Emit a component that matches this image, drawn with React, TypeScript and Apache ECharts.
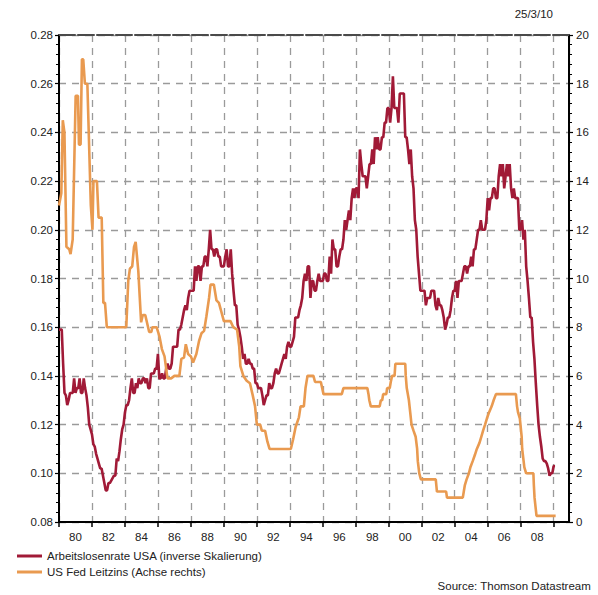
import React, { useEffect, useRef } from "react";
import * as echarts from "echarts";

// Monthly values from Jan 1980: inverse of the US unemployment rate (left axis)
const START_YEAR = 1980;
const unemploymentInverse: number[] = [
  // 1980
  0.159, 0.159, 0.159, 0.145, 0.133, 0.132, 0.128, 0.130, 0.133, 0.133, 0.133, 0.139,
  // 1981
  0.133, 0.135, 0.135, 0.139, 0.133, 0.133, 0.139, 0.135, 0.132, 0.127, 0.120, 0.118,
  // 1982
  0.116, 0.112, 0.111, 0.108, 0.106, 0.104, 0.102, 0.102, 0.099, 0.096, 0.093, 0.093,
  // 1983
  0.096, 0.096, 0.097, 0.098, 0.099, 0.099, 0.106, 0.105, 0.109, 0.114, 0.118, 0.120,
  // 1984
  0.125, 0.128, 0.128, 0.130, 0.135, 0.139, 0.133, 0.133, 0.137, 0.135, 0.139, 0.137,
  // 1985
  0.137, 0.139, 0.139, 0.137, 0.139, 0.135, 0.135, 0.141, 0.141, 0.141, 0.143, 0.143,
  // 1986
  0.149, 0.139, 0.139, 0.141, 0.139, 0.139, 0.143, 0.145, 0.143, 0.143, 0.145, 0.152,
  // 1987
  0.152, 0.152, 0.152, 0.159, 0.159, 0.161, 0.164, 0.167, 0.169, 0.167, 0.172, 0.175,
  // 1988
  0.175, 0.175, 0.175, 0.185, 0.179, 0.185, 0.185, 0.179, 0.185, 0.185, 0.189, 0.189,
  // 1989
  0.185, 0.192, 0.200, 0.192, 0.192, 0.189, 0.192, 0.192, 0.189, 0.189, 0.185, 0.185,
  // 1990
  0.185, 0.189, 0.192, 0.185, 0.185, 0.192, 0.182, 0.175, 0.169, 0.169, 0.161, 0.159,
  // 1991
  0.156, 0.152, 0.147, 0.149, 0.145, 0.145, 0.147, 0.145, 0.145, 0.143, 0.143, 0.137,
  // 1992
  0.137, 0.135, 0.135, 0.135, 0.132, 0.128, 0.130, 0.132, 0.132, 0.137, 0.135, 0.135,
  // 1993
  0.137, 0.141, 0.143, 0.141, 0.141, 0.143, 0.145, 0.147, 0.149, 0.147, 0.152, 0.154,
  // 1994
  0.152, 0.152, 0.154, 0.156, 0.164, 0.164, 0.164, 0.167, 0.169, 0.172, 0.179, 0.182,
  // 1995
  0.179, 0.185, 0.185, 0.172, 0.179, 0.179, 0.175, 0.175, 0.179, 0.182, 0.179, 0.179,
  // 1996
  0.179, 0.182, 0.182, 0.179, 0.179, 0.189, 0.182, 0.196, 0.192, 0.192, 0.185, 0.185,
  // 1997
  0.189, 0.192, 0.192, 0.196, 0.204, 0.200, 0.204, 0.208, 0.204, 0.213, 0.217, 0.213,
  // 1998
  0.217, 0.217, 0.213, 0.233, 0.227, 0.222, 0.222, 0.222, 0.217, 0.222, 0.227, 0.227,
  // 1999
  0.233, 0.227, 0.238, 0.233, 0.238, 0.233, 0.233, 0.238, 0.238, 0.244, 0.244, 0.250,
  // 2000
  0.250, 0.244, 0.250, 0.263, 0.250, 0.250, 0.250, 0.244, 0.256, 0.256, 0.256, 0.256,
  // 2001
  0.238, 0.238, 0.233, 0.227, 0.233, 0.222, 0.217, 0.204, 0.200, 0.189, 0.182, 0.175,
  // 2002
  0.175, 0.175, 0.175, 0.169, 0.172, 0.172, 0.172, 0.175, 0.175, 0.175, 0.169, 0.167,
  // 2003
  0.172, 0.169, 0.169, 0.167, 0.164, 0.159, 0.161, 0.164, 0.164, 0.167, 0.172, 0.175,
  // 2004
  0.175, 0.179, 0.172, 0.179, 0.179, 0.179, 0.182, 0.185, 0.185, 0.182, 0.185, 0.185,
  // 2005
  0.189, 0.185, 0.192, 0.192, 0.196, 0.200, 0.200, 0.204, 0.200, 0.200, 0.200, 0.204,
  // 2006
  0.213, 0.208, 0.213, 0.213, 0.217, 0.217, 0.213, 0.213, 0.222, 0.227, 0.222, 0.227,
  // 2007
  0.217, 0.222, 0.227, 0.222, 0.227, 0.217, 0.213, 0.217, 0.213, 0.213, 0.213, 0.200,
  // 2008
  0.200, 0.204, 0.196, 0.200, 0.185, 0.179, 0.172, 0.164, 0.164, 0.154, 0.147, 0.137,
  // 2009
  0.128, 0.120, 0.115, 0.111, 0.106, 0.105, 0.105, 0.104, 0.102, 0.099, 0.100, 0.100,
  // 2010
  0.103, 0.103,
];

// US Fed policy rate (right axis): breakpoints
const fedYears: number[] = [
  1980.0, 1980.14, 1980.23, 1980.33, 1980.45, 1980.62, 1980.7, 1980.83, 1981.01, 1981.15,
  1981.21, 1981.31, 1981.39, 1981.47, 1981.57, 1981.72, 1981.93, 1982.03, 1982.09, 1982.3,
  1982.4, 1982.59, 1982.69, 1982.79, 1982.9, 1984.08, 1984.2, 1984.3, 1984.44, 1984.55,
  1984.65, 1984.81, 1984.98, 1985.08, 1985.23, 1985.47, 1985.6, 1985.66, 1985.92, 1986.1,
  1986.24, 1986.4, 1986.58, 1986.8, 1987.0, 1987.3, 1987.42, 1987.58, 1987.69, 1987.83,
  1988.0, 1988.13, 1988.33, 1988.5, 1988.64, 1988.8, 1988.94, 1989.1, 1989.19, 1989.39,
  1989.55, 1989.7, 1989.86, 1990.0, 1990.4, 1990.57, 1990.8, 1990.93, 1991.0, 1991.18,
  1991.38, 1991.58, 1991.75, 1991.89, 1992.0, 1992.2, 1992.3, 1992.5, 1992.64, 1992.77,
  1994.06, 1994.2, 1994.35, 1994.55, 1994.65, 1994.85, 1994.95, 1995.07, 1995.43, 1995.53,
  1995.88, 1995.96, 1996.04, 1997.15, 1997.25, 1998.7, 1998.77, 1998.82, 1998.91, 1999.45,
  1999.52, 1999.6, 1999.66, 1999.85, 1999.9, 2000.06, 2000.12, 2000.2, 2000.35, 2000.4,
  2001.0, 2001.03, 2001.09, 2001.22, 2001.3, 2001.38, 2001.5, 2001.63, 2001.72, 2001.76,
  2001.85, 2001.95, 2002.85, 2002.92, 2003.48, 2003.53, 2004.49, 2004.55, 2004.61, 2004.72,
  2004.86, 2004.95, 2005.09, 2005.22, 2005.34, 2005.5, 2005.61, 2005.72, 2005.84, 2005.95,
  2006.08, 2006.24, 2006.36, 2006.5, 2007.71, 2007.78, 2007.84, 2007.95, 2008.06, 2008.09,
  2008.22, 2008.33, 2008.77, 2008.8, 2008.84, 2008.96, 2010.12,
];
const fedRates: number[] = [
  13.0, 13.5, 16.5, 16.0, 11.3, 11.2, 11.0, 11.6, 17.5, 17.5,
  15.5, 15.5, 19.0, 19.0, 18.0, 18.0, 13.0, 12.0, 14.0, 14.0,
  12.5, 12.5, 9.0, 9.0, 8.0, 8.0, 9.9, 10.4, 10.5, 11.3,
  11.5, 10.3, 8.2, 8.5, 8.5, 7.8, 7.8, 8.0, 8.0, 7.6,
  7.1, 6.8, 5.9, 5.9, 6.0, 6.0, 6.7, 6.75, 7.3, 6.9,
  6.8, 6.55, 6.9, 7.45, 7.75, 7.85, 8.45, 9.2, 9.75, 9.75,
  9.1, 9.0, 8.6, 8.25, 8.25, 8.0, 7.9, 7.2, 6.4, 6.0,
  5.8, 5.7, 5.2, 4.75, 4.0, 4.0, 3.75, 3.75, 3.3, 3.0,
  3.0, 3.4, 3.9, 4.3, 4.75, 4.75, 5.5, 6.0, 6.0, 5.75,
  5.75, 5.5, 5.25, 5.25, 5.5, 5.5, 5.25, 5.0, 4.75, 4.75,
  5.0, 5.0, 5.25, 5.25, 5.5, 5.5, 5.75, 6.0, 6.0, 6.5,
  6.5, 6.0, 5.5, 5.0, 4.5, 4.0, 3.75, 3.5, 3.0, 2.5,
  2.0, 1.75, 1.75, 1.25, 1.25, 1.0, 1.0, 1.25, 1.5, 1.75,
  2.0, 2.25, 2.5, 2.75, 3.0, 3.25, 3.5, 3.75, 4.0, 4.25,
  4.5, 4.75, 5.0, 5.25, 5.25, 4.75, 4.5, 4.25, 3.5, 3.0,
  2.25, 2.0, 2.0, 1.5, 1.0, 0.25, 0.25,
];

const X_MIN = 1980;
const X_MAX = 2010.93;
const X_STEP = 2;
const LEFT_MIN = 0.08;
const LEFT_MAX = 0.28;
const LEFT_STEP = 0.02;
const RIGHT_MIN = 0;
const RIGHT_MAX = 20;
const RIGHT_STEP = 2;
const LAST_X_LABEL_YEAR = 2008;

const SERIES_RED = "Arbeitslosenrate USA (inverse Skalierung)";
const SERIES_ORANGE = "US Fed Leitzins (Achse rechts)";
const DATE_TEXT = "25/3/10";
const SOURCE_TEXT = "Source: Thomson Datastream";

const FONT = "'Liberation Sans', Arial, Helvetica, sans-serif";
const RED = "#A11A37";
const ORANGE = "#E99A50";
const FS = 11.5;

export default function App() {
  const ref = useRef<HTMLDivElement>(null);

  useEffect(() => {
    if (!ref.current) return;
    const chart = echarts.init(ref.current, null, { renderer: "svg" });

    const redData = unemploymentInverse.map((v, i) => [START_YEAR + i / 12, v]);
    const orangeData = fedYears.map((y, i) => [y, fedRates[i]]);

    const gridDash = { color: "#9a9a9a", width: 1.3, type: [7, 6] as number[] };

    chart.setOption({
      animation: false,
      textStyle: { fontFamily: FONT },
      title: [
        {
          text: DATE_TEXT,
          right: 40,
          top: 3,
          textStyle: { fontSize: FS, fontWeight: "normal", color: "#222", fontFamily: FONT },
        },
        {
          text: SOURCE_TEXT,
          right: 2,
          top: 575,
          textStyle: { fontSize: FS, fontWeight: "normal", color: "#222", fontFamily: FONT },
        },
      ],
      legend: {
        orient: "vertical",
        left: 12,
        top: 545,
        itemWidth: 25,
        itemHeight: 3,
        itemGap: 4,
        icon: "rect",
        data: [SERIES_RED, SERIES_ORANGE],
        textStyle: { fontSize: FS, color: "#222", fontFamily: FONT },
      },
      grid: { left: 59, right: 29, top: 35, bottom: 73, containLabel: false },
      xAxis: [
        {
          type: "value",
          min: X_MIN,
          max: X_MAX,
          interval: X_STEP,
          axisLine: { show: true, lineStyle: { color: "#000", width: 2 } },
          axisTick: { show: true, length: 5, lineStyle: { color: "#000", width: 1.5 } },
          axisLabel: {
            show: true,
            margin: 9,
            fontSize: FS,
            color: "#222",
            fontFamily: FONT,
            padding: [0, 0, 0, 33],
            showMaxLabel: false,
            formatter: (v: number) => {
              const r = Math.round(v);
              if (Math.abs(v - r) > 1e-6 || r > LAST_X_LABEL_YEAR) return "";
              return String(r % 100).padStart(2, "0");
            },
          },
          splitLine: { show: true, lineStyle: gridDash },
        },
        {
          type: "value",
          position: "top",
          min: X_MIN,
          max: X_MAX,
          interval: X_STEP,
          axisLine: { show: true, lineStyle: { color: "#4a4a4a", width: 2, type: [16, 3] } },
          axisTick: { show: false },
          axisLabel: { show: false },
          splitLine: { show: false },
        },
      ],
      yAxis: [
        {
          type: "value",
          position: "left",
          min: LEFT_MIN,
          max: LEFT_MAX,
          interval: LEFT_STEP,
          axisLine: { show: true, lineStyle: { color: "#000", width: 2 } },
          axisTick: { show: true, length: 4, lineStyle: { color: "#000", width: 1.2 } },
          minorTick: { show: true, splitNumber: 5, length: 3, lineStyle: { color: "#000", width: 1 } },
          axisLabel: {
            margin: 6,
            fontSize: FS,
            color: "#222",
            fontFamily: FONT,
            formatter: (v: number) => v.toFixed(2),
          },
          splitLine: { show: true, lineStyle: gridDash },
        },
        {
          type: "value",
          position: "right",
          min: RIGHT_MIN,
          max: RIGHT_MAX,
          interval: RIGHT_STEP,
          axisLine: { show: true, lineStyle: { color: "#000", width: 2 } },
          axisTick: { show: true, length: 4, lineStyle: { color: "#000", width: 1.2 } },
          minorTick: { show: true, splitNumber: 5, length: 3, lineStyle: { color: "#000", width: 1 } },
          axisLabel: {
            margin: 7,
            fontSize: FS,
            color: "#222",
            fontFamily: FONT,
            formatter: (v: number) => String(Math.round(v)),
          },
          splitLine: { show: false },
        },
      ],
      series: [
        {
          name: SERIES_RED,
          type: "line",
          xAxisIndex: 0,
          yAxisIndex: 0,
          data: redData,
          showSymbol: false,
          symbol: "none",
          color: RED,
          lineStyle: { color: RED, width: 2.6 },
          z: 3,
        },
        {
          name: SERIES_ORANGE,
          type: "line",
          xAxisIndex: 0,
          yAxisIndex: 1,
          data: orangeData,
          showSymbol: false,
          symbol: "none",
          color: ORANGE,
          lineStyle: { color: ORANGE, width: 2.6 },
          z: 4,
        },
      ],
    });

    return () => chart.dispose();
  }, []);

  return (
    <div
      ref={ref}
      style={{ position: "fixed", left: 0, top: 0, width: 598, height: 595, background: "#fff" }}
    />
  );
}
